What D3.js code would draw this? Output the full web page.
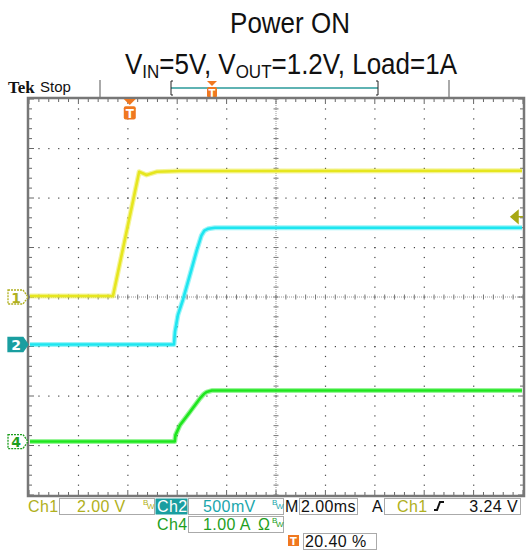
<!DOCTYPE html>
<html>
<head>
<meta charset="utf-8">
<script src="https://cdn.jsdelivr.net/npm/d3@7"></script>
<style>
  body { margin: 0; background: #fff; }
  svg { display: block; }
</style>
</head>
<body>
<div id="chart"></div>
<script>
const width = 527;
const height = 550;
const box = { left: 29, right: 523, top: 99, bottom: 495 };

// horizontal: 2.00 ms/div, trigger at 20.40 % of the record
const timePerDiv = 2;
const triggerPct = 0.204;
const triggerLevel = 3.24;

// Ch1 - VIN, 2.00 V/div
const ch1Time = [-4.1, -0.68, 0.38, 0.68, 1.09, 2.03, 16];
const ch1Values = [0.04, 0.04, 5.06, 4.93, 5.06, 5.09, 5.1];
// Ch2 - VOUT, 500 mV/div
const ch2Time = [-4.1, 1.79, 1.83, 1.95, 2.15, 2.51, 2.71, 2.9, 3.02, 3.18, 3.45, 16];
const ch2Values = [0, 0, 0.13, 0.3, 0.45, 0.77, 0.95, 1.1, 1.15, 1.17, 1.18, 1.18];
// Ch4 - load current, 1.00 A/div
const ch4Time = [-4.1, 1.82, 1.85, 2.03, 2.44, 2.84, 3.0, 3.11, 3.32, 16];
const ch4Values = [0, 0, 0.13, 0.33, 0.6, 0.87, 0.96, 1.0, 1.03, 1.03];

const channelScale = { ch1: 2, ch2: 0.5, ch4: 1 };
const channelOffset = { ch1: 0, ch2: -0.96, ch4: -2.92 }; // divisions

const svg = d3
  .select("#chart")
  .append("svg")
  .attr("width", width)
  .attr("height", height);

// scales
const xScale = d3
  .scaleLinear()
  .domain([-10 * timePerDiv * triggerPct, 10 * timePerDiv * (1 - triggerPct)])
  .range([box.left, box.right]);
const xDiv = d3.scaleLinear().domain([0, 10]).range([box.left, box.right]);
const yDiv = d3.scaleLinear().domain([-4, 4]).range([box.bottom, box.top]);

// title (font is slightly tall in the original)
const title = svg
  .append("g")
  .attr("transform", "scale(1,1.12)")
  .append("text")
  .attr("text-anchor", "middle")
  .attr("font-family", "Liberation Sans, Arial, sans-serif")
  .attr("font-size", 26)
  .attr("fill", "#111");
title.append("tspan").attr("x", 290).attr("y", 29.5).text("Power ON");
const line2 = title.append("tspan").attr("x", 291).attr("y", 66);
line2.append("tspan").text("V");
line2.append("tspan").attr("font-size", 17).attr("dy", 4).text("IN");
line2.append("tspan").attr("dy", -4).text("=5V, V");
line2.append("tspan").attr("font-size", 17).attr("dy", 4).text("OUT");
line2.append("tspan").attr("dy", -4).text("=1.2V, Load=1A");

// top status bar
svg.append("text").attr("x", 8).attr("y", 93)
  .attr("font-family", "Liberation Serif, serif").attr("font-weight", "bold")
  .attr("font-size", 17).attr("fill", "#111").text("Tek");
svg.append("text").attr("x", 40).attr("y", 92)
  .attr("font-family", "Liberation Sans, sans-serif")
  .attr("font-size", 15).attr("fill", "#111").text("Stop");
[100, 449].forEach((x) => {
  svg.append("line").attr("x1", x).attr("x2", x).attr("y1", 80).attr("y2", 97)
    .attr("stroke", "#aaa").attr("stroke-width", 2);
});
// record view bracket
svg.append("line").attr("x1", 171).attr("x2", 378).attr("y1", 88).attr("y2", 88)
  .attr("stroke", "#2a9a9a").attr("stroke-width", 1.5);
svg.append("path").attr("d", "M173,81 H171 V95 H173 M376,81 H378 V95 H376")
  .attr("fill", "none").attr("stroke", "#222").attr("stroke-width", 1);
function triggerIcon(g, cx, top, big) {
  const s = big ? 1.2 : 1;
  g.append("path")
    .attr("d", `M${cx - 5 * s},${top} H${cx + 5 * s} L${cx},${top + 5 * s} Z`)
    .attr("fill", "#f07820");
  g.append("rect")
    .attr("x", cx - 5 * s).attr("y", top + 6 * s)
    .attr("width", 10 * s).attr("height", 11 * s).attr("rx", 2)
    .attr("fill", "#f07820");
  g.append("text").attr("x", cx).attr("y", top + 15.5 * s)
    .attr("text-anchor", "middle").attr("font-family", "DejaVu Sans, sans-serif")
    .attr("font-weight", "bold").attr("font-size", 10 * s).attr("fill", "#fff").text("T");
}
triggerIcon(svg.append("g"), 212, 81, false);

// graticule
const grid = svg.append("g");
const minor = d3.range(0, 50.01, 1).map((d) => d / 5);
const minorY = d3.range(0, 40.01, 1).map((d) => d / 5 - 4);
// dotted division lines
d3.range(1, 10).filter((d) => d !== 5).forEach((d) => {
  grid.selectAll(null).data(minorY.slice(1, -1)).enter().append("rect")
    .attr("x", xDiv(d) - 0.5).attr("y", (v) => yDiv(v) - 0.5)
    .attr("width", 1.2).attr("height", 1.2).attr("fill", "#444");
});
d3.range(-3, 4).filter((d) => d !== 0).forEach((d) => {
  grid.selectAll(null).data(minor.slice(1, -1)).enter().append("rect")
    .attr("x", (v) => xDiv(v) - 0.5).attr("y", yDiv(d) - 0.5)
    .attr("width", 1.2).attr("height", 1.2).attr("fill", "#444");
});
// center axes
grid.append("line").attr("x1", box.left).attr("x2", box.right)
  .attr("y1", yDiv(0)).attr("y2", yDiv(0))
  .attr("stroke", "#999").attr("stroke-dasharray", "1,1");
grid.append("line").attr("x1", xDiv(5)).attr("x2", xDiv(5))
  .attr("y1", box.top).attr("y2", box.bottom)
  .attr("stroke", "#999").attr("stroke-dasharray", "1,1");
grid.selectAll(null).data(minor).enter().append("line")
  .attr("x1", (v) => xDiv(v)).attr("x2", (v) => xDiv(v))
  .attr("y1", yDiv(0) - 2.5).attr("y2", yDiv(0) + 2.5)
  .attr("stroke", "#777");
grid.selectAll(null).data(minorY).enter().append("line")
  .attr("x1", xDiv(5) - 2.5).attr("x2", xDiv(5) + 2.5)
  .attr("y1", (v) => yDiv(v)).attr("y2", (v) => yDiv(v))
  .attr("stroke", "#777");
// edge ticks
grid.selectAll(null).data(minor).enter().append("line")
  .attr("x1", (v) => xDiv(v)).attr("x2", (v) => xDiv(v))
  .attr("y1", box.top).attr("y2", (v, i) => box.top + (i % 5 === 0 ? 5 : 3))
  .attr("stroke", "#666");
grid.selectAll(null).data(minor).enter().append("line")
  .attr("x1", (v) => xDiv(v)).attr("x2", (v) => xDiv(v))
  .attr("y1", box.bottom).attr("y2", (v, i) => box.bottom - (i % 5 === 0 ? 5 : 3))
  .attr("stroke", "#666");
grid.selectAll(null).data(minorY).enter().append("line")
  .attr("y1", (v) => yDiv(v)).attr("y2", (v) => yDiv(v))
  .attr("x1", box.left).attr("x2", (v, i) => box.left + (i % 5 === 0 ? 5 : 3))
  .attr("stroke", "#666");
grid.selectAll(null).data(minorY).enter().append("line")
  .attr("y1", (v) => yDiv(v)).attr("y2", (v) => yDiv(v))
  .attr("x1", box.right).attr("x2", (v, i) => box.right - (i % 5 === 0 ? 5 : 3))
  .attr("stroke", "#666");
grid.append("rect")
  .attr("x", box.left - 1).attr("y", box.top - 1)
  .attr("width", box.right - box.left + 2).attr("height", box.bottom - box.top + 2)
  .attr("fill", "none").attr("stroke", "#777").attr("stroke-width", 2.5);

// traces
function drawTrace(times, values, ch, color) {
  const pts = times.map((t, i) => [t, values[i]]);
  const line = d3.line()
    .x((d) => xScale(d[0]))
    .y((d) => yDiv(d[1] / channelScale[ch] + channelOffset[ch]));
  const clip = svg.append("g").attr("clip-path", "url(#screen)");
  clip.append("path").datum(pts).attr("d", line)
    .attr("fill", "none").attr("stroke", color).attr("stroke-opacity", 0.45)
    .attr("stroke-width", 5).attr("stroke-linejoin", "round");
  clip.append("path").datum(pts).attr("d", line)
    .attr("fill", "none").attr("stroke", color).attr("stroke-width", 2.6)
    .attr("stroke-linejoin", "round");
}
svg.append("clipPath").attr("id", "screen").append("rect")
  .attr("x", box.left + 1).attr("y", box.top + 1)
  .attr("width", box.right - box.left - 2).attr("height", box.bottom - box.top - 2);
drawTrace(ch1Time, ch1Values, "ch1", "#e6e61e");
drawTrace(ch2Time, ch2Values, "ch2", "#1ee6f0");
drawTrace(ch4Time, ch4Values, "ch4", "#1ee61e");

// trigger position marker on the graticule
triggerIcon(svg.append("g"), xScale(0), box.top, true);

// trigger level arrow
const trigY = yDiv(triggerLevel / channelScale.ch1 + channelOffset.ch1);
svg.append("path")
  .attr("d", `M${box.right - 12},${trigY} L${box.right - 5},${trigY - 6} V${trigY + 6} Z M${box.right - 6},${trigY} H${box.right}`)
  .attr("fill", "#a8a814").attr("stroke", "#a8a814").attr("stroke-width", 1.5);

// channel ground markers
function chMarker(label, ch, color, filled) {
  const y = yDiv(channelOffset[ch]);
  svg.append("path")
    .attr("d", `M8,${y - 7} H23 L28,${y} L23,${y + 7} H8 Z`)
    .attr("fill", filled ? color : "#fff")
    .attr("stroke", color).attr("stroke-width", 1.3)
    .attr("stroke-dasharray", filled ? null : "2,1");
  svg.append("text").attr("x", 16).attr("y", y + 5.5)
    .attr("text-anchor", "middle").attr("font-family", "DejaVu Sans, sans-serif")
    .attr("font-weight", "bold").attr("font-size", 14)
    .attr("fill", filled ? "#fff" : color).text(label);
}
chMarker("1", "ch1", "#b0b020", false);
chMarker("2", "ch2", "#1a9ea0", true);
chMarker("4", "ch4", "#1e9e1e", false);

// bottom readouts
const readouts = [
  { x: 28, y: 498, w: 0, text: "Ch1", color: "#b0b020" },
  { x: 59, y: 498, w: 95, text: "2.00 V", color: "#b0b020", tx: 77, bw: true },
  { x: 155, y: 498, w: 32, text: "Ch2", color: "#fff", fill: "#1a9ea0", tx: 157 },
  { x: 188, y: 498, w: 95, text: "500mV", color: "#1aa6ac", tx: 203, bw: true },
  { x: 285, y: 498, w: 0, text: "M", color: "#111" },
  { x: 299, y: 498, w: 58, text: "2.00ms", color: "#111", tx: 301 },
  { x: 372, y: 498, w: 0, text: "A", color: "#111" },
  { x: 384, y: 498, w: 136, text: "Ch1", color: "#b0b020", tx: 397 },
  { x: 157, y: 516, w: 0, text: "Ch4", color: "#1e9e1e" },
  { x: 188, y: 516, w: 95, text: "1.00 A", color: "#1e9e1e", tx: 203, bw: true, ohm: true },
  { x: 303, y: 533, w: 73, text: "20.40 %", color: "#111", tx: 305 },
];
const ro = svg.append("g")
  .attr("font-family", "Liberation Sans, Arial, sans-serif").attr("font-size", 16);
readouts.forEach((r) => {
  if (r.w > 0) {
    ro.append("rect").attr("x", r.x + 0.5).attr("y", r.y + 0.5)
      .attr("width", r.w).attr("height", 16)
      .attr("fill", r.fill || "#fff").attr("stroke", r.fill ? "none" : "#aaa");
  }
  ro.append("text").attr("x", r.tx || r.x).attr("y", r.y + 14)
    .attr("fill", r.color).attr("letter-spacing", 0.4).text(r.text);
  if (r.bw) {
    const g = ro.append("g").attr("font-size", 8).attr("fill", r.color);
    g.append("text").attr("x", r.x + 84).attr("y", r.y + 7).text("B");
    g.append("text").attr("x", r.x + 88).attr("y", r.y + 11).text("W");
  }
  if (r.ohm) {
    ro.append("text").attr("x", r.x + 70).attr("y", r.y + 14)
      .attr("fill", r.color).text("Ω");
  }
});
// trigger readout
ro.append("text").attr("x", 518).attr("y", 512).attr("text-anchor", "end")
  .attr("fill", "#111").attr("letter-spacing", 0.4).text("3.24 V");
ro.append("path").attr("d", "M434,510 H437 L440,502 H444")
  .attr("fill", "none").attr("stroke", "#111").attr("stroke-width", 2);
// trigger position icon
ro.append("rect").attr("x", 288).attr("y", 535).attr("width", 11).attr("height", 11)
  .attr("fill", "#f07820");
ro.append("text").attr("x", 293.5).attr("y", 544.5).attr("text-anchor", "middle")
  .attr("font-family", "DejaVu Sans, sans-serif").attr("font-weight", "bold")
  .attr("font-size", 10).attr("fill", "#fff").text("T");
</script>
</body>
</html>
